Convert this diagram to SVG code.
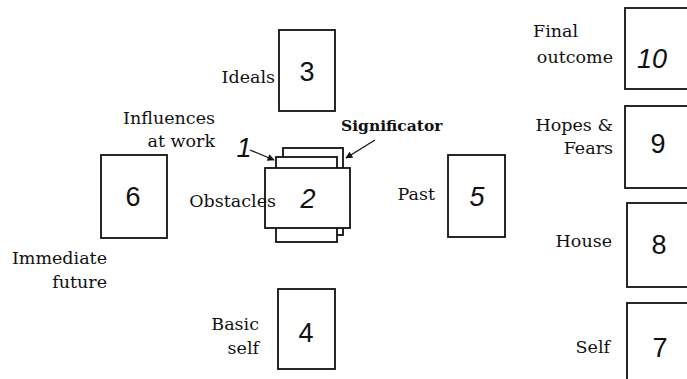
<svg xmlns="http://www.w3.org/2000/svg" width="687" height="379" viewBox="0 0 687 379">
<defs>
<marker id="ah" viewBox="0 0 10 10" refX="9" refY="5" markerWidth="8" markerHeight="7" orient="auto" markerUnits="userSpaceOnUse">
<path d="M0,0 L10,5 L0,10 z" fill="#111"/>
</marker>
</defs>
<style>
.card{fill:#fff;stroke:#111;stroke-width:1.8}
.lbl{font-family:"DejaVu Serif","Liberation Serif",serif;font-size:17.5px;fill:#111}
.bold{font-weight:bold;font-size:15.5px}
.num{font-family:"Liberation Sans","DejaVu Sans",sans-serif;font-size:27px;fill:#111;text-anchor:middle}
.hand{font-style:italic}
.conn{stroke:#111;stroke-width:1.3;fill:none}
</style>
<rect width="687" height="379" fill="#fff"/>
<g id="node3"><rect class="card" x="279" y="30" width="56" height="81"/><text class="num" x="307" y="81">3</text><text class="lbl" x="275" y="83" text-anchor="end">Ideals</text></g>
<g id="node6"><rect class="card" x="101" y="155" width="66" height="83"/><text class="num" x="133" y="206">6</text><text class="lbl" x="107" y="264" text-anchor="end">Immediate</text><text class="lbl" x="107" y="288" text-anchor="end">future</text></g>
<g id="nodeSignificator"><rect class="card" x="283" y="148" width="60" height="87"/><text class="lbl bold" x="341" y="131">Significator</text></g>
<g id="node1"><rect class="card" x="276" y="157" width="61" height="85"/><text class="num hand" x="244" y="157">1</text></g>
<g id="node2"><rect class="card" x="265" y="168" width="85" height="60"/><text class="num hand" x="308" y="208">2</text><text class="lbl" x="276" y="207" text-anchor="end">Obstacles</text><text class="lbl" x="215" y="124" text-anchor="end">Influences</text><text class="lbl" x="215" y="147" text-anchor="end">at work</text></g>
<g id="node5"><rect class="card" x="448" y="155" width="57" height="82"/><text class="num hand" x="477" y="206">5</text><text class="lbl" x="435" y="200" text-anchor="end">Past</text></g>
<g id="node4"><rect class="card" x="278" y="289" width="57" height="80"/><text class="num" x="306" y="342">4</text><text class="lbl" x="259" y="330" text-anchor="end">Basic</text><text class="lbl" x="259" y="354" text-anchor="end">self</text></g>
<g id="node10"><rect class="card" x="625" y="8" width="64" height="81"/><text class="num hand" x="652" y="68">10</text><text class="lbl" x="533" y="37">Final</text><text class="lbl" x="613" y="63" text-anchor="end">outcome</text></g>
<g id="node9"><rect class="card" x="625" y="106" width="64" height="82"/><text class="num" x="658" y="153">9</text><text class="lbl" x="613" y="131" text-anchor="end">Hopes &amp;</text><text class="lbl" x="613" y="154" text-anchor="end">Fears</text></g>
<g id="node8"><rect class="card" x="627" y="203" width="62" height="84"/><text class="num" x="659" y="254">8</text><text class="lbl" x="612" y="247" text-anchor="end">House</text></g>
<g id="node7"><rect class="card" x="627" y="303" width="62" height="84"/><text class="num" x="660" y="357">7</text><text class="lbl" x="610" y="353" text-anchor="end">Self</text></g>
<g id="connectors">
<line class="conn" x1="250" y1="150" x2="274" y2="160" marker-end="url(#ah)"/>
<line class="conn" x1="375" y1="140" x2="346" y2="158" marker-end="url(#ah)"/>
</g>
</svg>
